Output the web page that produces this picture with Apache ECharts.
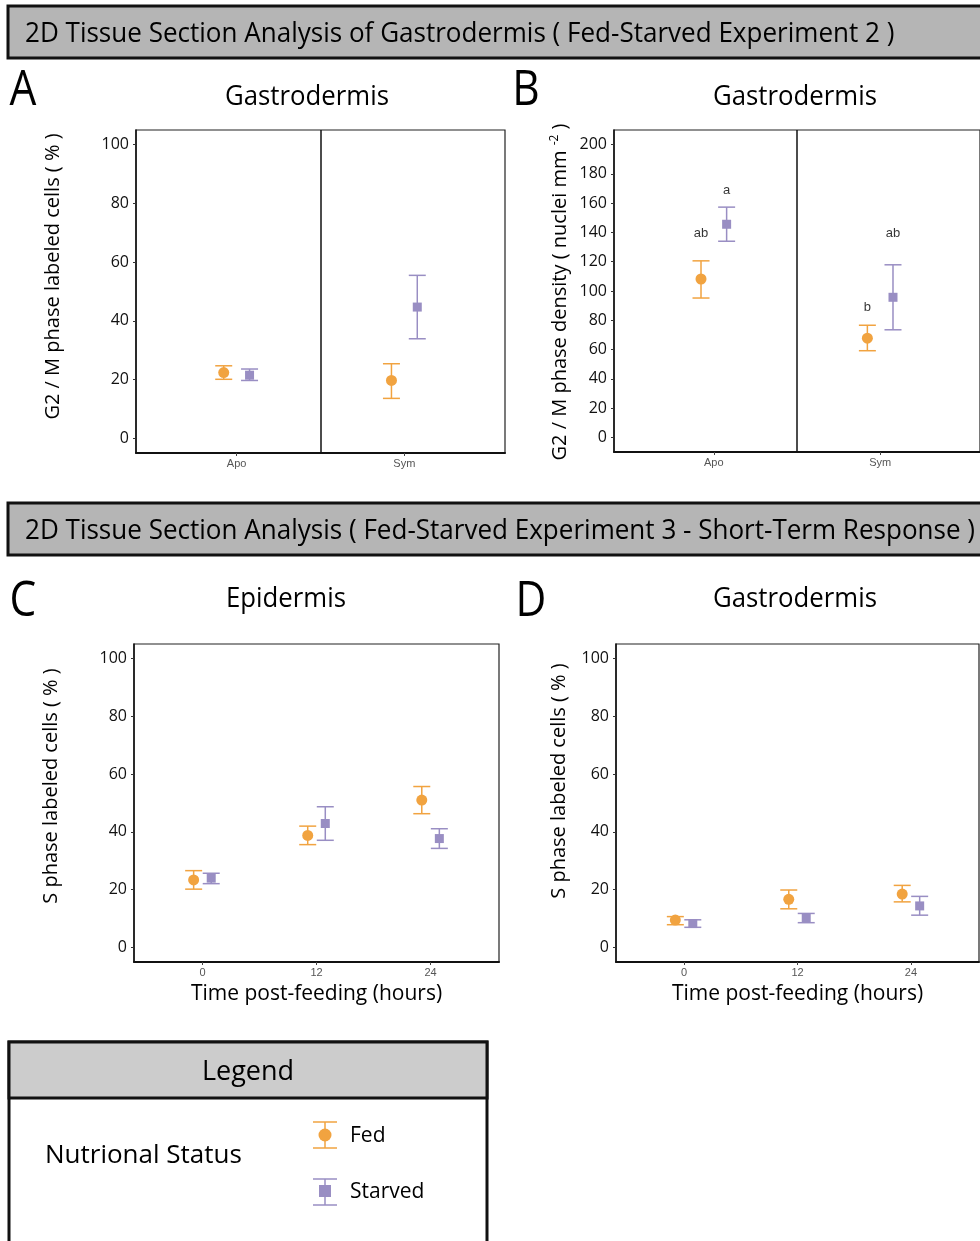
<!DOCTYPE html>
<html>
<head>
<meta charset="utf-8">
<script src="https://cdn.jsdelivr.net/npm/echarts@6/dist/echarts.min.js"></script>
<style>
  html, body { margin: 0; padding: 0; background: #fff; }
  #chart { width: 980px; height: 1241px; }
</style>
</head>
<body>
<div id="chart"></div>
<script>
// ---- categories and tick labels ----
const symbiosisStates = ['Apo', 'Sym'];
const hourLabels = ['0', '12', '24'];
const percentTicks = [0, 20, 40, 60, 80, 100];
const densityTicks = [0, 20, 40, 60, 80, 100, 120, 140, 160, 180, 200];

// ---- A: G2/M phase labeled cells (%), gastrodermis ----
const g2PctFed = [22.4, 19.7];
const g2PctFedLow = [20.1, 13.6];
const g2PctFedHigh = [24.7, 25.4];
const g2PctStarved = [21.5, 44.7];
const g2PctStarvedLow = [19.7, 33.9];
const g2PctStarvedHigh = [23.6, 55.5];

// ---- B: G2/M phase density (nuclei mm^-2), gastrodermis ----
const g2DensFed = [108.2, 67.8];
const g2DensFedLow = [95.2, 59.2];
const g2DensFedHigh = [120.6, 76.6];
const g2DensStarved = [145.6, 95.7];
const g2DensStarvedLow = [134.0, 73.5];
const g2DensStarvedHigh = [157.3, 117.9];
// significance groups and their heights
const g2DensFedLetters = ['ab', 'b'];
const g2DensFedLetterY = [139, 89];
const g2DensStarvedLetters = ['a', 'ab'];
const g2DensStarvedLetterY = [169, 139];

// ---- C: S phase labeled cells (%), epidermis ----
const epiFed = [23.4, 38.8, 51.0];
const epiFedLow = [20.2, 35.6, 46.3];
const epiFedHigh = [26.6, 42.0, 55.7];
const epiStarved = [24.0, 42.9, 37.7];
const epiStarvedLow = [22.1, 37.1, 34.3];
const epiStarvedHigh = [25.7, 48.7, 41.1];

// ---- D: S phase labeled cells (%), gastrodermis ----
const gastFed = [9.5, 16.7, 18.5];
const gastFedLow = [7.9, 13.4, 15.8];
const gastFedHigh = [10.7, 19.9, 21.5];
const gastStarved = [8.3, 10.3, 14.4];
const gastStarvedLow = [7.0, 8.6, 11.2];
const gastStarvedHigh = [9.6, 11.8, 17.7];

const FED = '#f1a340';
const STARVED = '#998ec3';
const FONT = 'Open Sans';
const DODGE = 0.077;

const chart = echarts.init(document.getElementById('chart'), null, { renderer: 'canvas' });

// error bars + mean markers for one group in one panel
function groupSeries(grid, name, means, lows, highs, shift, color, symbol, size) {
  const xs = means.map((_, i) => i + 1 + shift);
  return [
    {
      type: 'custom', name, xAxisIndex: grid, yAxisIndex: grid,
      data: xs.map((x, i) => [x, lows[i], highs[i]]),
      encode: { x: 0, y: [1, 2] },
      z: 3,
      renderItem(params, api) {
        const lo = api.coord([api.value(0), api.value(1)]);
        const hi = api.coord([api.value(0), api.value(2)]);
        const w = 8.5;
        const st = { stroke: color, lineWidth: 1.5 };
        return {
          type: 'group',
          children: [
            { type: 'line', shape: { x1: lo[0], y1: lo[1], x2: hi[0], y2: hi[1] }, style: st },
            { type: 'line', shape: { x1: lo[0] - w, y1: lo[1], x2: lo[0] + w, y2: lo[1] }, style: st },
            { type: 'line', shape: { x1: hi[0] - w, y1: hi[1], x2: hi[0] + w, y2: hi[1] }, style: st }
          ]
        };
      }
    },
    {
      type: 'scatter', name, xAxisIndex: grid, yAxisIndex: grid,
      data: xs.map((x, i) => [x, means[i]]),
      symbol, symbolSize: size, z: 4,
      itemStyle: { color, opacity: 1 }
    }
  ];
}

function letterSeries(grid, letters, ys, shift) {
  return {
    type: 'scatter', xAxisIndex: grid, yAxisIndex: grid,
    data: letters.map((t, i) => [i + 1 + shift, ys[i], t]),
    symbolSize: 0, z: 5,
    label: {
      show: true, position: 'inside', formatter: p => p.data[2],
      color: '#000', fontSize: 13, fontFamily: 'Liberation Sans'
    }
  };
}

function dividerSeries(grid) {
  return {
    type: 'scatter', xAxisIndex: grid, yAxisIndex: grid, data: [], silent: true,
    markLine: {
      silent: true, symbol: 'none', label: { show: false },
      lineStyle: { color: '#111', width: 1.5, type: 'solid' },
      data: [{ xAxis: 1.5 }]
    }
  };
}

function xAxisCfg(grid, labels, name) {
  const vals = labels.map((_, i) => i + 1);
  return {
    gridIndex: grid, type: 'value', min: 0.4, max: labels.length + 0.6,
    name, nameLocation: 'middle', nameGap: 22,
    nameTextStyle: { fontFamily: FONT, fontSize: 21, color: '#000' },
    axisLine: { show: true, onZero: false, lineStyle: { color: '#111', width: 2 } },
    axisTick: { show: true, customValues: vals, length: 3, lineStyle: { color: '#444' } },
    axisLabel: {
      customValues: vals, formatter: v => labels[Math.round(v) - 1],
      color: '#555', fontSize: 11, fontFamily: 'Liberation Sans', margin: 5
    },
    splitLine: { show: false }
  };
}

function yAxisCfg(grid, min, max, ticks, name, gap, lift) {
  return {
    gridIndex: grid, type: 'value', min, max,
    name, nameLocation: 'middle', nameGap: gap,
    nameTextStyle: { fontFamily: FONT, fontSize: 20, color: '#000', padding: [0, 0, 0, lift] },
    axisLine: { show: true, onZero: false, lineStyle: { color: '#111', width: 1.5 } },
    axisTick: { show: true, customValues: ticks, length: 3, lineStyle: { color: '#333' } },
    axisLabel: { customValues: ticks, color: '#111', fontSize: 16, fontFamily: FONT, margin: 7 },
    splitLine: { show: false }
  };
}

const gridStyle = { show: true, borderColor: '#222', borderWidth: 1.2, backgroundColor: '#fff' };

function headerBox(y, text) {
  return [
    { type: 'rect', shape: { x: 8, y, width: 1000, height: 52 },
      style: { fill: '#b5b5b5', stroke: '#111', lineWidth: 3 } },
    { type: 'text', x: 25, y: y + 28, scaleX: 0.93,
      style: { text, font: '28px "Open Sans"', fill: '#000', textVerticalAlign: 'middle' } }
  ];
}

// centred text, optionally narrowed horizontally
function bigText(x, y, text, size, narrow) {
  return { type: 'text', x, y, scaleX: narrow || 1,
    style: { text, font: size + 'px "Open Sans"', fill: '#000', textAlign: 'center', textVerticalAlign: 'middle' } };
}

const option = {
  animation: false,
  backgroundColor: '#fff',
  grid: [
    Object.assign({ left: 136, top: 130, width: 369, height: 323 }, gridStyle),
    Object.assign({ left: 614, top: 130, width: 370, height: 322 }, gridStyle),
    Object.assign({ left: 134, top: 644, width: 365, height: 318 }, gridStyle),
    Object.assign({ left: 616, top: 644, width: 363, height: 318 }, gridStyle)
  ],
  xAxis: [
    xAxisCfg(0, symbiosisStates, ''),
    xAxisCfg(1, symbiosisStates, ''),
    xAxisCfg(2, hourLabels, 'Time post-feeding (hours)'),
    xAxisCfg(3, hourLabels, 'Time post-feeding (hours)')
  ],
  yAxis: [
    yAxisCfg(0, -5, 105, percentTicks, 'G2 / M phase labeled cells ( % )', 73, 30),
    yAxisCfg(1, -10, 210, densityTicks, '', 0, 0),
    yAxisCfg(2, -5, 105, percentTicks, 'S phase labeled cells ( % )', 73, 34),
    yAxisCfg(3, -5, 105, percentTicks, 'S phase labeled cells ( % )', 47, 44)
  ],
  series: [
    dividerSeries(0),
    dividerSeries(1),
    ...groupSeries(0, 'Fed', g2PctFed, g2PctFedLow, g2PctFedHigh, -DODGE, FED, 'circle', 11),
    ...groupSeries(0, 'Starved', g2PctStarved, g2PctStarvedLow, g2PctStarvedHigh, DODGE, STARVED, 'rect', 9),
    ...groupSeries(1, 'Fed', g2DensFed, g2DensFedLow, g2DensFedHigh, -DODGE, FED, 'circle', 11),
    ...groupSeries(1, 'Starved', g2DensStarved, g2DensStarvedLow, g2DensStarvedHigh, DODGE, STARVED, 'rect', 9),
    letterSeries(1, g2DensFedLetters, g2DensFedLetterY, -DODGE),
    letterSeries(1, g2DensStarvedLetters, g2DensStarvedLetterY, DODGE),
    ...groupSeries(2, 'Fed', epiFed, epiFedLow, epiFedHigh, -DODGE, FED, 'circle', 11),
    ...groupSeries(2, 'Starved', epiStarved, epiStarvedLow, epiStarvedHigh, DODGE, STARVED, 'rect', 9),
    ...groupSeries(3, 'Fed', gastFed, gastFedLow, gastFedHigh, -DODGE, FED, 'circle', 11),
    ...groupSeries(3, 'Starved', gastStarved, gastStarvedLow, gastStarvedHigh, DODGE, STARVED, 'rect', 9)
  ],
  graphic: [
    ...headerBox(6, '2D Tissue Section Analysis of Gastrodermis ( Fed-Starved Experiment 2 )'),
    ...headerBox(503, '2D Tissue Section Analysis ( Fed-Starved Experiment 3 - Short-Term Response )'),
    bigText(23, 91, 'A', 50, 0.85),
    bigText(526, 91, 'B', 50, 0.85),
    bigText(23, 602, 'C', 50, 0.85),
    bigText(531, 602, 'D', 50, 0.85),
    bigText(307, 97, 'Gastrodermis', 28, 0.92),
    bigText(795, 97, 'Gastrodermis', 28, 0.92),
    bigText(286, 599, 'Epidermis', 28, 0.92),
    bigText(795, 599, 'Gastrodermis', 28, 0.92),
    // density axis title with superscript exponent
    {
      type: 'text', x: 560, y: 292, rotation: Math.PI / 2,
      style: {
        text: 'G2 / M phase density ( nuclei mm {sup|-2} )',
        font: '20px "Open Sans"', fill: '#000', textAlign: 'center', textVerticalAlign: 'middle',
        rich: { sup: { fontSize: 12, fontFamily: FONT, verticalAlign: 'top', padding: [0, 0, 10, 0] } }
      }
    },
    // legend panel
    { type: 'rect', shape: { x: 9, y: 1042, width: 478, height: 240 },
      style: { fill: '#fff', stroke: '#111', lineWidth: 3 } },
    { type: 'rect', shape: { x: 9, y: 1042, width: 478, height: 56 },
      style: { fill: '#cccccc', stroke: '#111', lineWidth: 3 } },
    bigText(248, 1072, 'Legend', 27),
    { type: 'text', x: 45, y: 1156,
      style: { text: 'Nutrional Status', font: '26px "Open Sans"', fill: '#000', textVerticalAlign: 'middle' } },
    // Fed key
    { type: 'line', shape: { x1: 325, y1: 1122, x2: 325, y2: 1148 }, style: { stroke: FED, lineWidth: 1.5 } },
    { type: 'line', shape: { x1: 313, y1: 1122, x2: 337, y2: 1122 }, style: { stroke: FED, lineWidth: 1.5 } },
    { type: 'line', shape: { x1: 313, y1: 1148, x2: 337, y2: 1148 }, style: { stroke: FED, lineWidth: 1.5 } },
    { type: 'circle', shape: { cx: 325, cy: 1135, r: 6.5 }, style: { fill: FED } },
    { type: 'text', x: 350, y: 1136,
      style: { text: 'Fed', font: '21px "Open Sans"', fill: '#000', textVerticalAlign: 'middle' } },
    // Starved key
    { type: 'line', shape: { x1: 325, y1: 1179, x2: 325, y2: 1205 }, style: { stroke: STARVED, lineWidth: 1.5 } },
    { type: 'line', shape: { x1: 313, y1: 1179, x2: 337, y2: 1179 }, style: { stroke: STARVED, lineWidth: 1.5 } },
    { type: 'line', shape: { x1: 313, y1: 1205, x2: 337, y2: 1205 }, style: { stroke: STARVED, lineWidth: 1.5 } },
    { type: 'rect', shape: { x: 319, y: 1185, width: 12, height: 12 }, style: { fill: STARVED } },
    { type: 'text', x: 350, y: 1192,
      style: { text: 'Starved', font: '21px "Open Sans"', fill: '#000', textVerticalAlign: 'middle' } }
  ]
};

chart.setOption(option);
</script>
</body>
</html>
